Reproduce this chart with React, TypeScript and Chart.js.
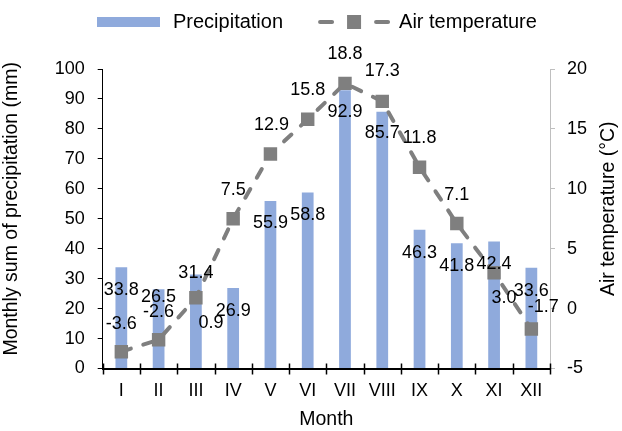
import React, { useEffect, useRef } from 'react';
import { Chart, registerables } from 'chart.js';

Chart.register(...registerables);

// ---- data ----
const months = ['I', 'II', 'III', 'IV', 'V', 'VI', 'VII', 'VIII', 'IX', 'X', 'XI', 'XII'];
const precipitation = [33.8, 26.5, 31.4, 26.9, 55.9, 58.8, 92.9, 85.7, 46.3, 41.8, 42.4, 33.6];
const airTemperature = [-3.6, -2.6, 0.9, 7.5, 12.9, 15.8, 18.8, 17.3, 11.8, 7.1, 3.0, -1.7];
const precipAxis = { min: 0, max: 100, step: 10 };
const tempAxis = { min: -5, max: 20, step: 5 };
const seriesNames = ['Precipitation', 'Air temperature'];
const axisTitles = { x: 'Month', left: 'Monthly sum of precipitation (mm)', right: 'Air temperature (°C)' };

// ---- style: label offsets (px) relative to the mark ----
const barLabelDy = [23, 8, -1, 23, 22, 23, 22, 21, 23, 23, 23, 23];
const lineLabelDx = [0, 0, 15, 0, 1, 0, 0, 0, 0, 0, 10, 12];
const lineLabelDy = [-28, -28, 25, -29, -29, -29, -29, -30, -29, -29, 25, -22];

const FONT = '"Liberation Sans", Arial, sans-serif';
const FS = 18;
const FS_TITLE = 19.5;
const FS_LEGEND = 20;
const BLUE = '#8FAADC';
const GRAY = '#7F7F7F';
const RIGHT_AXIS = '#BFBFBF';

const decorPlugin = {
  id: 'decor',
  afterDatasetsDraw(chart: any) {
    const ctx = chart.ctx;
    const ca = chart.chartArea;
    const xs = chart.scales.x;
    ctx.save();
    // crossing x-axis tick marks between categories
    const n = months.length;
    const w = (xs.right - xs.left) / n;
    ctx.strokeStyle = '#000';
    ctx.lineWidth = 1.5;
    for (let i = 0; i <= n; i++) {
      const x = Math.round(xs.left + i * w) + 0.5;
      ctx.beginPath();
      ctx.moveTo(x, ca.bottom - 5);
      ctx.lineTo(x, ca.bottom + 6);
      ctx.stroke();
    }

    // data labels
    ctx.fillStyle = '#000';
    ctx.font = `${FS}px ${FONT}`;
    ctx.textAlign = 'center';
    ctx.textBaseline = 'middle';
    const barMeta = chart.getDatasetMeta(1);
    barMeta.data.forEach((el: any, i: number) => {
      ctx.fillText(precipitation[i].toFixed(1), el.x, el.y + barLabelDy[i]);
    });
    const lineMeta = chart.getDatasetMeta(0);
    lineMeta.data.forEach((el: any, i: number) => {
      ctx.fillText(airTemperature[i].toFixed(1), el.x + lineLabelDx[i], el.y + lineLabelDy[i]);
    });

    // rotated axis titles
    ctx.font = `${FS_TITLE}px ${FONT}`;
    const midY = (ca.top + ca.bottom) / 2;
    ctx.save();
    ctx.translate(12, midY - 10);
    ctx.rotate(-Math.PI / 2);
    ctx.fillText(axisTitles.left, 0, 0);
    ctx.restore();
    ctx.save();
    ctx.translate(609, midY - 10);
    ctx.rotate(-Math.PI / 2);
    ctx.fillText(axisTitles.right, 0, 0);
    ctx.restore();

    // legend
    ctx.font = `${FS_LEGEND}px ${FONT}`;
    const ly = 22;
    let x = 97;
    ctx.textAlign = 'left';
    ctx.fillStyle = BLUE;
    ctx.fillRect(x, ly - 5, 63, 10);
    x += 63 + 13;
    ctx.fillStyle = '#000';
    ctx.fillText(seriesNames[0], x, ly);
    x += ctx.measureText(seriesNames[0]).width + 35;
    ctx.strokeStyle = GRAY;
    ctx.lineWidth = 4;
    ctx.lineCap = 'round';
    ctx.beginPath();
    ctx.moveTo(x + 2, ly);
    ctx.lineTo(x + 14, ly);
    ctx.moveTo(x + 58, ly);
    ctx.lineTo(x + 70, ly);
    ctx.stroke();
    ctx.fillStyle = GRAY;
    ctx.fillRect(x + 36 - 7, ly - 7, 14, 14);
    x += 72 + 9;
    ctx.fillStyle = '#000';
    ctx.fillText(seriesNames[1], x, ly);
    ctx.restore();
  },
};

export default function App() {
  const ref = useRef<HTMLCanvasElement>(null);
  useEffect(() => {
    const canvas = ref.current!;
    const chart = new Chart(canvas, {
      type: 'bar',
      data: {
        labels: months,
        datasets: [
          {
            type: 'line',
            label: seriesNames[1],
            data: airTemperature,
            yAxisID: 'y1',
            borderColor: GRAY,
            backgroundColor: GRAY,
            borderWidth: 4,
            borderDash: [10, 13],
            borderCapStyle: 'round',
            pointStyle: 'rect',
            pointRadius: 9.5,
            pointBorderWidth: 0,
            pointBackgroundColor: GRAY,
            tension: 0,
            order: 0,
          } as any,
          {
            type: 'bar',
            label: seriesNames[0],
            data: precipitation,
            yAxisID: 'y',
            backgroundColor: BLUE,
            barPercentage: 0.315,
            categoryPercentage: 1,
            order: 1,
          },
        ],
      },
      options: {
        responsive: false,
        animation: false,
        layout: { padding: { top: 69, left: 0, right: 0, bottom: 0 } },
        plugins: { legend: { display: false }, tooltip: { enabled: false } },
        scales: {
          x: {
            type: 'category',
            offset: true,
            grid: { display: false, drawTicks: false },
            border: { display: true, color: '#000', width: 2 },
            ticks: { color: '#000', font: { family: FONT, size: FS }, padding: 12 },
            title: { display: true, text: axisTitles.x, color: '#000', font: { family: FONT, size: FS_TITLE }, padding: { top: 0, bottom: 0 } },
            afterFit: (s: any) => { s.height = 62.5; },
          },
          y: {
            position: 'left',
            min: precipAxis.min,
            max: precipAxis.max,
            ticks: { stepSize: precipAxis.step, color: '#000', font: { family: FONT, size: FS }, padding: 13 },
            grid: { display: true, drawOnChartArea: false, drawTicks: true, tickLength: 5, color: '#000' },
            border: { display: true, color: '#000', width: 1 },
            afterFit: (s: any) => { s.width = 102.7; },
          },
          y1: {
            position: 'right',
            min: tempAxis.min,
            max: tempAxis.max,
            ticks: { stepSize: tempAxis.step, color: '#000', font: { family: FONT, size: FS }, padding: 12 },
            grid: { display: true, drawOnChartArea: false, drawTicks: true, tickLength: 5, color: RIGHT_AXIS },
            border: { display: true, color: RIGHT_AXIS, width: 1 },
            afterFit: (s: any) => { s.width = 72; },
          },
        },
      },
      plugins: [decorPlugin],
    });
    return () => chart.destroy();
  }, []);
  return (
    <div style={{ position: 'absolute', left: 0, top: 0, width: 622, height: 431 }}>
      <canvas ref={ref} width={622} height={431} style={{ display: 'block' }} />
    </div>
  );
}
